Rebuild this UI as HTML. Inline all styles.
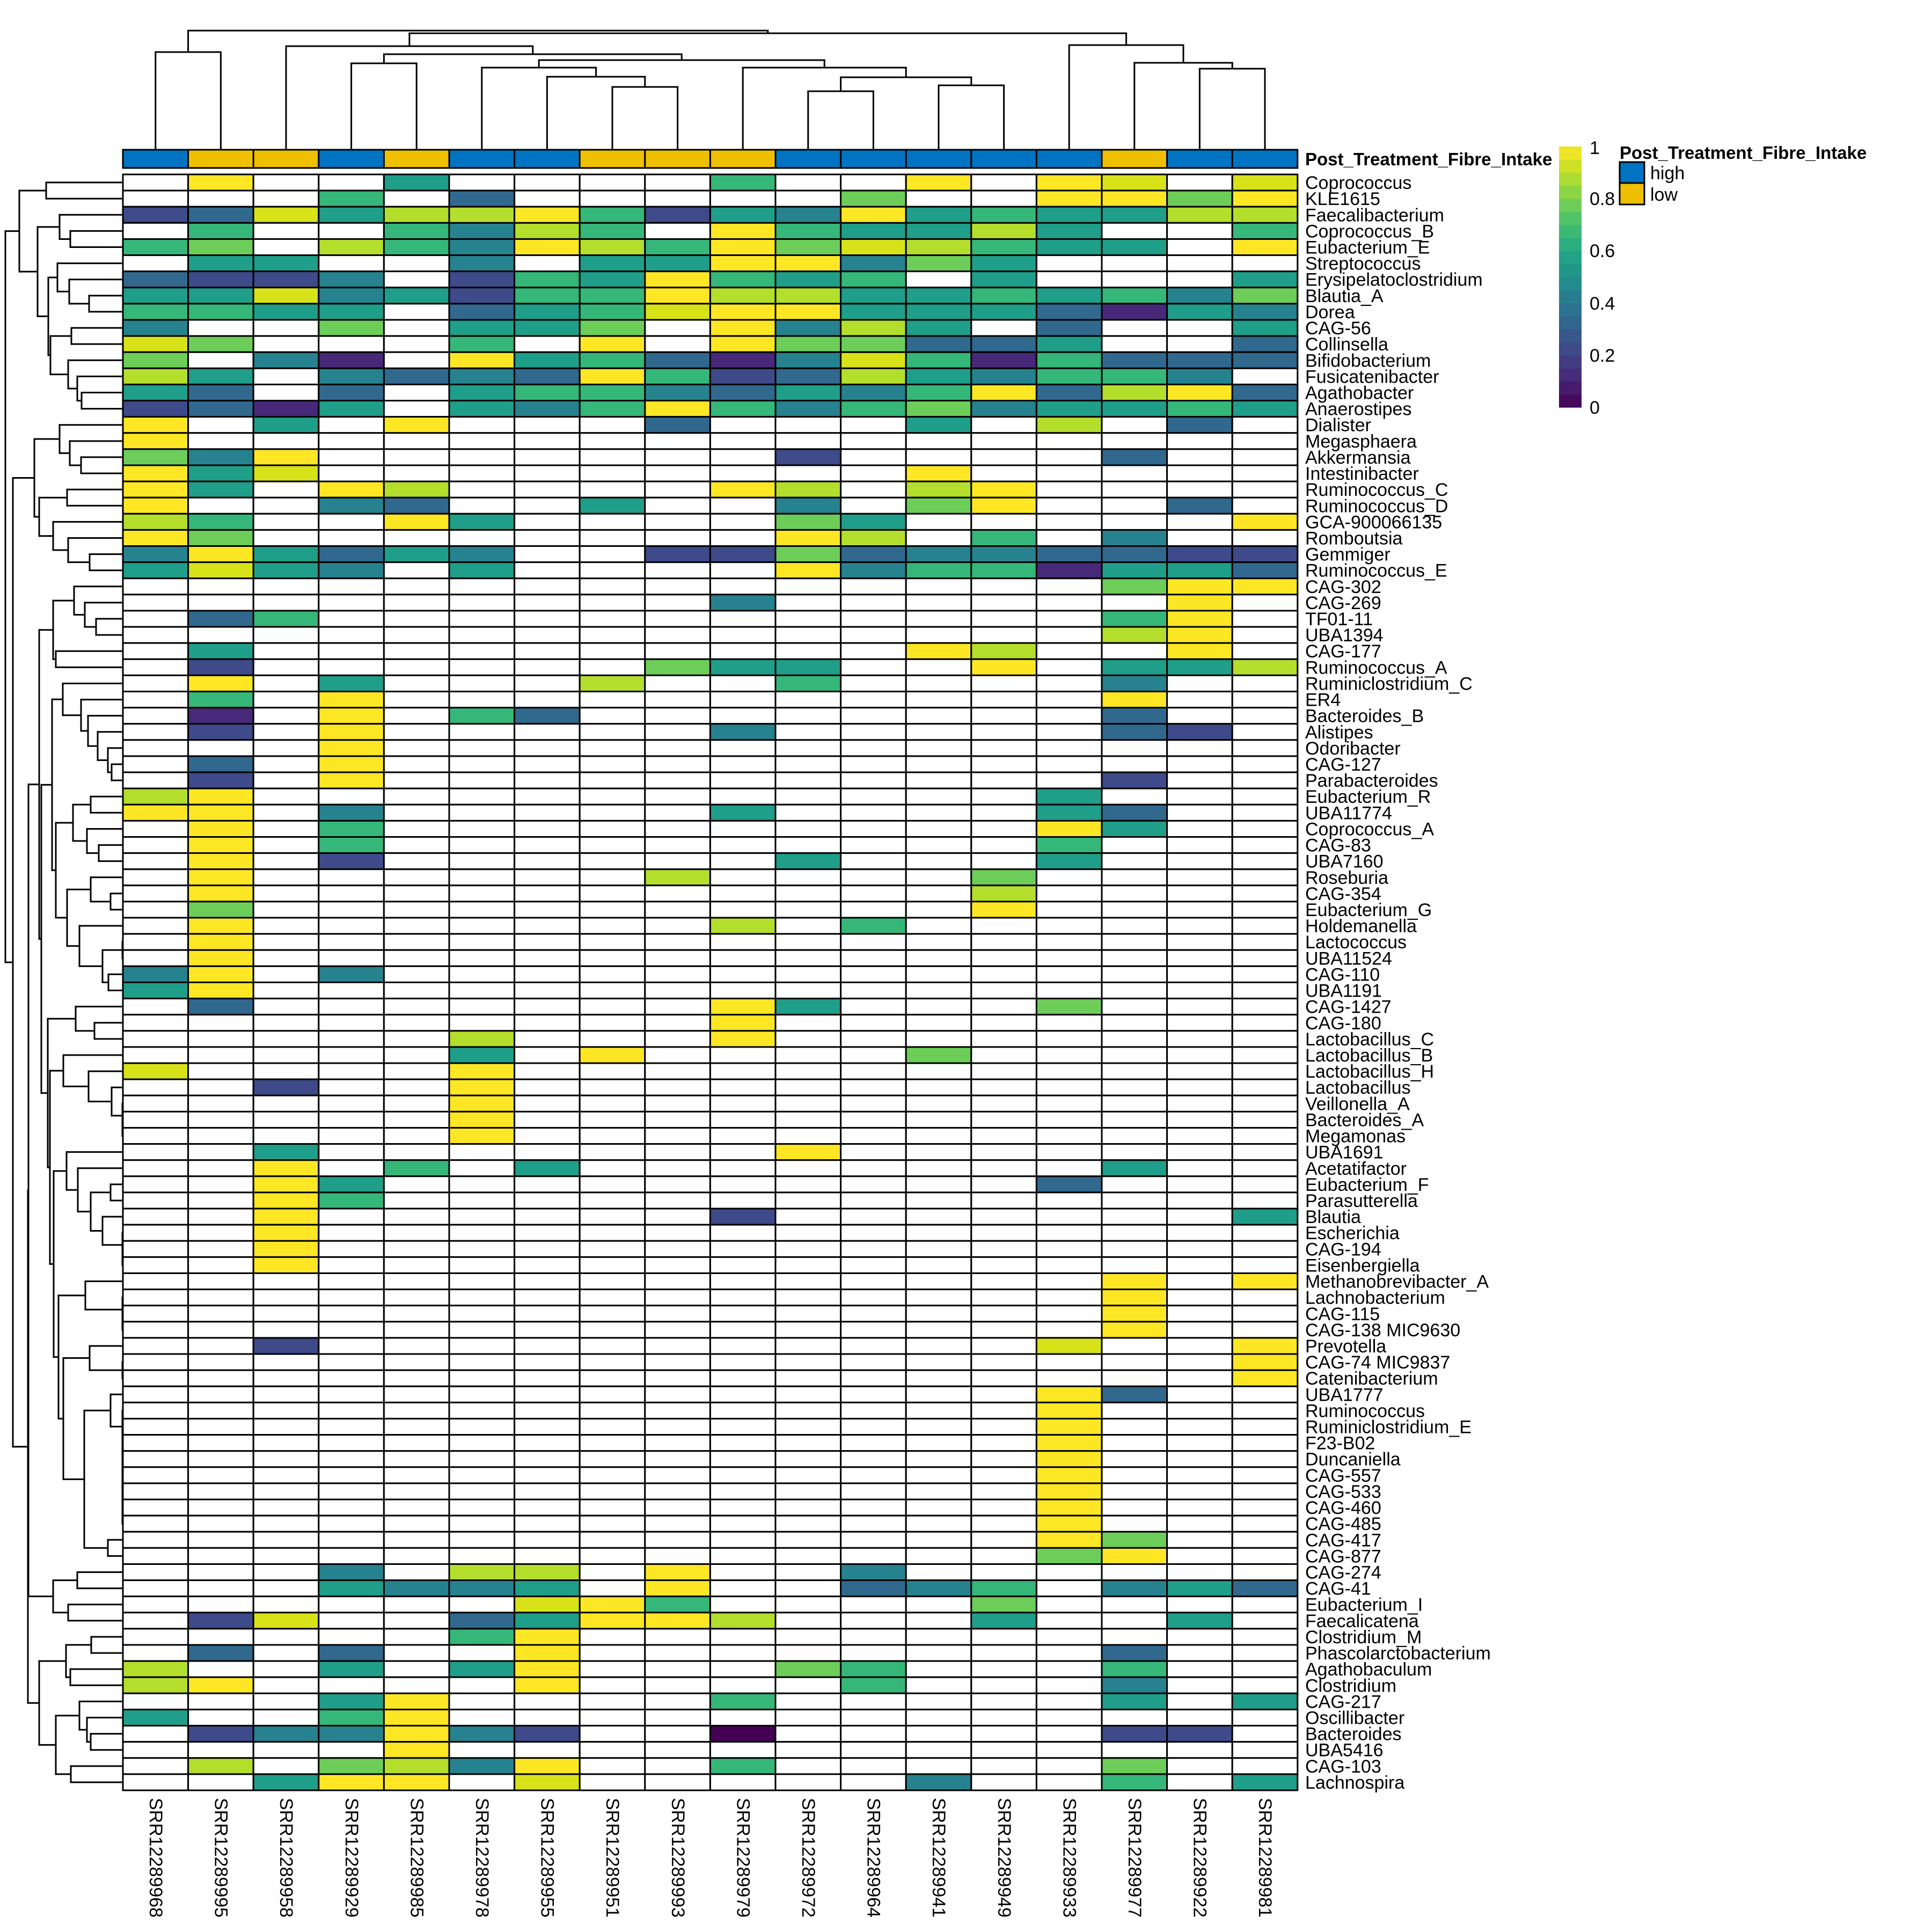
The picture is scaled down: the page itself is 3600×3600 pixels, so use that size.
<!DOCTYPE html>
<html><head><meta charset="utf-8">
<style>
html,body{margin:0;padding:0;background:#fff;}
svg{display:block;}
text{font-family:"Liberation Sans",Arial,sans-serif;fill:#000;}
.rl{font-size:34px;}
.cl{font-size:34px;}
.b{font-weight:bold;font-size:33px;}
</style></head>
<body>
<svg id="s" xmlns="http://www.w3.org/2000/svg" width="3600" height="3600" viewBox="0 0 3600 3600">
<rect width="3600" height="3600" fill="#fff"/>
<g id="cells"></g>
<g id="dend" stroke="#000" stroke-width="3" fill="none" stroke-linecap="square"></g>
<g id="ann"></g>
<g id="rowlabels">
<text class="rl">Coprococcus</text><text class="rl">KLE1615</text><text class="rl">Faecalibacterium</text><text class="rl">Coprococcus_B</text><text class="rl">Eubacterium_E</text><text class="rl">Streptococcus</text><text class="rl">Erysipelatoclostridium</text><text class="rl">Blautia_A</text><text class="rl">Dorea</text><text class="rl">CAG-56</text><text class="rl">Collinsella</text><text class="rl">Bifidobacterium</text><text class="rl">Fusicatenibacter</text><text class="rl">Agathobacter</text><text class="rl">Anaerostipes</text><text class="rl">Dialister</text><text class="rl">Megasphaera</text><text class="rl">Akkermansia</text><text class="rl">Intestinibacter</text><text class="rl">Ruminococcus_C</text><text class="rl">Ruminococcus_D</text><text class="rl">GCA-900066135</text><text class="rl">Romboutsia</text><text class="rl">Gemmiger</text><text class="rl">Ruminococcus_E</text><text class="rl">CAG-302</text><text class="rl">CAG-269</text><text class="rl">TF01-11</text><text class="rl">UBA1394</text><text class="rl">CAG-177</text><text class="rl">Ruminococcus_A</text><text class="rl">Ruminiclostridium_C</text><text class="rl">ER4</text><text class="rl">Bacteroides_B</text><text class="rl">Alistipes</text><text class="rl">Odoribacter</text><text class="rl">CAG-127</text><text class="rl">Parabacteroides</text><text class="rl">Eubacterium_R</text><text class="rl">UBA11774</text><text class="rl">Coprococcus_A</text><text class="rl">CAG-83</text><text class="rl">UBA7160</text><text class="rl">Roseburia</text><text class="rl">CAG-354</text><text class="rl">Eubacterium_G</text><text class="rl">Holdemanella</text><text class="rl">Lactococcus</text><text class="rl">UBA11524</text><text class="rl">CAG-110</text><text class="rl">UBA1191</text><text class="rl">CAG-1427</text><text class="rl">CAG-180</text><text class="rl">Lactobacillus_C</text><text class="rl">Lactobacillus_B</text><text class="rl">Lactobacillus_H</text><text class="rl">Lactobacillus</text><text class="rl">Veillonella_A</text><text class="rl">Bacteroides_A</text><text class="rl">Megamonas</text><text class="rl">UBA1691</text><text class="rl">Acetatifactor</text><text class="rl">Eubacterium_F</text><text class="rl">Parasutterella</text><text class="rl">Blautia</text><text class="rl">Escherichia</text><text class="rl">CAG-194</text><text class="rl">Eisenbergiella</text><text class="rl">Methanobrevibacter_A</text><text class="rl">Lachnobacterium</text><text class="rl">CAG-115</text><text class="rl">CAG-138 MIC9630</text><text class="rl">Prevotella</text><text class="rl">CAG-74 MIC9837</text><text class="rl">Catenibacterium</text><text class="rl">UBA1777</text><text class="rl">Ruminococcus</text><text class="rl">Ruminiclostridium_E</text><text class="rl">F23-B02</text><text class="rl">Duncaniella</text><text class="rl">CAG-557</text><text class="rl">CAG-533</text><text class="rl">CAG-460</text><text class="rl">CAG-485</text><text class="rl">CAG-417</text><text class="rl">CAG-877</text><text class="rl">CAG-274</text><text class="rl">CAG-41</text><text class="rl">Eubacterium_I</text><text class="rl">Faecalicatena</text><text class="rl">Clostridium_M</text><text class="rl">Phascolarctobacterium</text><text class="rl">Agathobaculum</text><text class="rl">Clostridium</text><text class="rl">CAG-217</text><text class="rl">Oscillibacter</text><text class="rl">Bacteroides</text><text class="rl">UBA5416</text><text class="rl">CAG-103</text><text class="rl">Lachnospira</text>
</g>
<g id="collabels">
<text class="cl" transform="translate(290,3350) rotate(90)" dominant-baseline="central">SRR12289968</text>
<text class="cl" transform="translate(411.6,3350) rotate(90)" dominant-baseline="central">SRR12289995</text>
<text class="cl" transform="translate(533.2,3350) rotate(90)" dominant-baseline="central">SRR12289958</text>
<text class="cl" transform="translate(654.8,3350) rotate(90)" dominant-baseline="central">SRR12289929</text>
<text class="cl" transform="translate(776.4,3350) rotate(90)" dominant-baseline="central">SRR12289985</text>
<text class="cl" transform="translate(898,3350) rotate(90)" dominant-baseline="central">SRR12289978</text>
<text class="cl" transform="translate(1019.6,3350) rotate(90)" dominant-baseline="central">SRR12289955</text>
<text class="cl" transform="translate(1141.2,3350) rotate(90)" dominant-baseline="central">SRR12289951</text>
<text class="cl" transform="translate(1262.8,3350) rotate(90)" dominant-baseline="central">SRR12289993</text>
<text class="cl" transform="translate(1384.4,3350) rotate(90)" dominant-baseline="central">SRR12289979</text>
<text class="cl" transform="translate(1506,3350) rotate(90)" dominant-baseline="central">SRR12289972</text>
<text class="cl" transform="translate(1627.6,3350) rotate(90)" dominant-baseline="central">SRR12289964</text>
<text class="cl" transform="translate(1749.2,3350) rotate(90)" dominant-baseline="central">SRR12289941</text>
<text class="cl" transform="translate(1870.8,3350) rotate(90)" dominant-baseline="central">SRR12289949</text>
<text class="cl" transform="translate(1992.4,3350) rotate(90)" dominant-baseline="central">SRR12289933</text>
<text class="cl" transform="translate(2114,3350) rotate(90)" dominant-baseline="central">SRR12289977</text>
<text class="cl" transform="translate(2235.6,3350) rotate(90)" dominant-baseline="central">SRR12289922</text>
<text class="cl" transform="translate(2357.2,3350) rotate(90)" dominant-baseline="central">SRR12289981</text>
</g>
<text class="b" x="2432" y="308">Post_Treatment_Fibre_Intake</text>
<g id="cbar"></g>
<text class="rl" x="2962" y="287">1</text>
<text class="rl" x="2962" y="382">0.8</text>
<text class="rl" x="2962" y="479">0.6</text>
<text class="rl" x="2962" y="577">0.4</text>
<text class="rl" x="2962" y="674">0.2</text>
<text class="rl" x="2962" y="771">0</text>
<text class="b" x="3018" y="296">Post_Treatment_Fibre_Intake</text>
<rect x="3018" y="302" width="46" height="39" fill="#0073C2" stroke="#000" stroke-width="3"/>
<rect x="3018" y="341" width="46" height="40" fill="#EFC000" stroke="#000" stroke-width="3"/>
<text class="rl" x="3075" y="334">high</text>
<text class="rl" x="3075" y="374">low</text>
</svg>
<script>
(function(){
var NS="http://www.w3.org/2000/svg";
var X0=229,Y0=325,CW=121.6,RH=30.11;
var C={'0':'#440154','1':'#482878','2':'#3E4A89','3':'#31688E','4':'#26828E','5':'#1F9E89','6':'#35B779','7':'#6DCD59','8':'#B4DE2C','9':'#D8E219','Y':'#FDE725'};
var full=[".Y..5....6..Y.Y9.9","...6.3.....7..YY7Y","239588Y6254Y565588",".6..6486.Y65585..6","67.864Y86Y798655.Y",".55..4.55YY475....","3224.265Y656.5...5","55945266Y885565647","6655.3569YY5553154","4..7.557.Y485.3..5","97...6.Y.Y77335..3","7.41.Y563149616333","85.4343Y623854664.","53.3.56643546Y38Y3","2315.546Y646745565","Y.5.Y...3...5.8.3.","Y.................","74Y.......2....3..","Y59.........Y.....","Y5.Y8....Y8.8Y....","Y..43..5..4.7Y..3.","86..Y5....75.....Y","Y7........Y8.6.4..","4Y5354..2273443322","5954.5....Y4661553"];
var sp=["16:7,17:Y,18:Y","10:4,17:Y","2:3,3:6,16:6,17:Y","16:8,17:Y","2:5,13:Y,14:8,17:Y","2:2,9:7,10:5,11:5,14:Y,16:5,17:5,18:8","2:Y,4:5,8:8,11:6,16:4","2:6,4:Y,16:Y","2:1,4:Y,6:6,7:3,16:3","2:2,4:Y,10:4,16:3,17:2","4:Y","2:3,4:Y","2:2,4:Y,16:2","1:8,2:Y,15:5","1:Y,2:Y,4:4,10:5,15:5,16:3","2:Y,4:6,15:Y,16:5","2:Y,4:6,15:6","2:Y,4:2,11:5,15:5","2:Y,9:8,14:7","2:Y,14:8","2:7,14:Y","2:Y,10:8,12:6","2:Y","2:Y","1:4,2:Y,4:4","1:5,2:Y","2:3,10:Y,11:5,15:7","10:Y","6:8,10:Y","6:5,8:Y,13:7","1:9,6:Y","3:2,6:Y","6:Y","6:Y","6:Y","3:5,11:Y","3:Y,5:6,7:5,16:5","3:Y,4:5,15:3","3:Y,4:6","3:Y,10:2,18:5","3:Y","3:Y","3:Y","16:Y,18:Y","16:Y","16:Y","16:Y","3:2,15:9,18:Y","18:Y","18:Y","15:Y,16:3","15:Y","15:Y","15:Y","15:Y","15:Y","15:Y","15:Y","15:Y","15:Y,16:7","15:7,16:Y","4:4,6:8,7:8,9:Y,12:4","4:5,5:4,6:4,7:5,9:Y,12:3,13:4,14:6,16:4,17:5,18:3","7:9,8:Y,9:6,14:7","2:2,3:9,6:3,7:5,8:Y,9:Y,10:8,14:5,17:5","6:6,7:Y","2:3,4:3,7:Y,16:3","1:8,4:5,6:5,7:Y,11:7,12:6,16:6","1:8,2:Y,7:Y,12:6,16:4","4:5,5:Y,10:6,16:5,18:5","1:5,4:6,5:Y","2:2,3:4,4:4,5:Y,6:4,7:2,10:0,16:2,17:2","5:Y","2:8,4:7,5:8,6:4,7:Y,10:6,16:7","3:5,4:Y,5:Y,7:9,13:4,16:6,18:5"];
var data=full.slice();
sp.forEach(function(s){var a=[];for(var i=0;i<18;i++)a.push('.');s.split(',').forEach(function(p){var kv=p.split(':');a[parseInt(kv[0])-1]=kv[1];});data.push(a.join(''));});
function el(tag,attrs,parent){var e=document.createElementNS(NS,tag);for(var k in attrs)e.setAttribute(k,attrs[k]);parent.appendChild(e);return e;}
var cells=document.getElementById('cells');
for(var r=0;r<100;r++){var row=data[r];for(var c=0;c<18;c++){var ch=row.charAt(c);el('rect',{x:X0+c*CW,y:Y0+r*RH,width:CW,height:RH,fill:ch==='.'?'#fff':C[ch],stroke:'#000','stroke-width':3},cells);}}
// annotation
var ann=document.getElementById('ann');var grp="HLLHLHHLLLHHHHHLHH";
for(var c=0;c<18;c++)el('rect',{x:X0+c*CW,y:279,width:CW,height:34,fill:grp[c]==='H'?'#0073C2':'#EFC000',stroke:'#000','stroke-width':3},ann);
// row labels
var rl=document.querySelectorAll('#rowlabels text');
for(var i=0;i<rl.length;i++){rl[i].setAttribute('x',2432);rl[i].setAttribute('y',(Y0+RH*(i+0.5)+12).toFixed(1));}
// dendrograms
var dg=document.getElementById('dend');
function line(x1,y1,x2,y2){el('line',{x1:x1,y1:y1,x2:x2,y2:y2},dg);}
function chain(a,b){return a===b?a:[228,a,chain(a+1,b)];}
function rowDraw(n){if(typeof n==='number')return {x:228,y:Y0+RH*(n-0.5)};var a=rowDraw(n[1]),b=rowDraw(n[2]),h=n[0];line(h,a.y,a.x,a.y);line(h,b.y,b.x,b.y);line(h,a.y,h,b.y);return {x:h,y:(a.y+b.y)/2};}
var A=[36,[86,1,2],[70,[111,3,[131,4,5]],[90,[107,6,[129,7,[166,8,9]]],[94,[133,10,11],[127,12,[144,13,[152,14,15]]]]]]];
var B=[64,[111,16,[130,17,[151,18,19]]],[73,[125,20,21],[99,22,[127,23,[167,24,25]]]]];
var C26_31=[99,[138,26,[158,27,[179,28,29]]],[104,30,31]];
var C32_38=[117,32,[151,33,[164,34,[182,35,[201,36,[208,37,38]]]]]];
var C39_51=[104,[136,[169,39,40],[162,41,[184,42,43]]],[125,[169,44,[206,45,46]],[148,47,[191,[228,48,49],[202,50,51]]]]];
var C52_54=[141,52,[176,53,54]];
var C55_60=[118,55,[165,56,[208,57,chain(58,60)]]];
var C61_68=[124,61,[145,62,[169,[206,63,64],[191,65,chain(66,68)]]]];
var C69_72=[159,69,chain(70,72)];
var C73_75=[167,73,[228,74,75]];
var C76_86=[157,[206,76,chain(77,84)],[201,85,86]];
var C52_86=[89,C52_54,[93,C55_60,[100,C61_68,[109,C69_72,[118,C73_75,C76_86]]]]];
var C32_86=[77,[97,C32_38,C39_51],C52_86];
var C26_86=[73,C26_31,C32_86];
var C87_90=[99,[144,87,88],[127,89,90]];
var C91_100=[73,[123,[170,91,92],[131,93,94]],[104,[148,95,[162,96,[169,97,98]]],[132,99,100]]];
var root=[10,A,[24,B,[52,[53,C26_86,C87_90],C91_100]]];
rowDraw(root);
function colDraw(n){if(typeof n==='number')return {x:X0+CW*(n-0.5),y:276};var a=colDraw(n[1]),b=colDraw(n[2]),h=n[0];line(a.x,h,a.x,a.y);line(b.x,h,b.x,b.y);line(a.x,h,b.x,h);return {x:(a.x+b.x)/2,y:h};}
colDraw([57,[97,1,2],[62,[86,3,[101,[118,4,5],[112,[126,6,[143,7,[162,8,9]]],[126,10,[144,[170,11,12],[159,13,14]]]]]],[84,15,[117,16,[128,17,18]]]]]);
// colorbar
var V=['#440154','#482475','#414487','#355F8D','#2A788E','#21918C','#22A884','#44BF70','#7AD151','#BDDF26','#FDE725'];
function hx(h){return [parseInt(h.substr(1,2),16),parseInt(h.substr(3,2),16),parseInt(h.substr(5,2),16)];}
function vir(t){var p=t*10,i=Math.min(9,Math.floor(p)),f=p-i,a=hx(V[i]),b=hx(V[i+1]);return 'rgb('+a.map(function(v,k){return Math.round(v+(b[k]-v)*f);}).join(',')+')';}
var cb=document.getElementById('cbar');var top=273,bot=759,n=20,bh=(bot-top)/n;
for(var i=0;i<n;i++){el('rect',{x:2905,y:(bot-(i+1)*bh).toFixed(2),width:42,height:(bh+0.6).toFixed(2),fill:vir((i+0.5)/n)},cb);}
})();
</script>
</body></html>
